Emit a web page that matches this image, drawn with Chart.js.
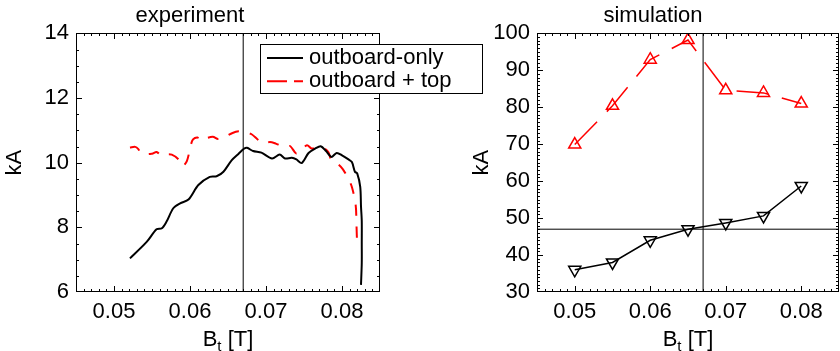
<!DOCTYPE html>
<html>
<head>
<meta charset="utf-8">
<script src="https://cdn.jsdelivr.net/npm/chart.js@4.4.1/dist/chart.umd.min.js"></script>
<style>
  html, body { margin: 0; padding: 0; background: #fff; }
  #wrap { position: relative; width: 840px; height: 351px; overflow: hidden; }
  canvas { position: absolute; top: 0; }
  #expChart { left: 0; }
  #simChart { left: 467px; }
</style>
</head>
<body>
<div id="wrap">
  <canvas id="expChart" width="490" height="351"></canvas>
  <canvas id="simChart" width="373" height="351"></canvas>
</div>
<script>
// ---- experiment: measured current vs toroidal field ----
const expOutboardBt = [0.0521, 0.0543, 0.0556, 0.0563, 0.0569, 0.0578, 0.0587, 0.0598, 0.0611, 0.0626,
  0.0635, 0.0644, 0.0655, 0.0664, 0.0671, 0.0675, 0.0683, 0.0694, 0.0708, 0.0718,
  0.0725, 0.0734, 0.0740, 0.0747, 0.0756, 0.0765, 0.0772, 0.0779, 0.0786, 0.0793,
  0.0800, 0.0808, 0.0813, 0.0817, 0.0820, 0.0824, 0.0825, 0.0826, 0.0826, 0.0826, 0.0825];
const expOutboardKA = [7.04, 7.55, 7.94, 7.97, 8.17, 8.59, 8.74, 8.86, 9.31, 9.56,
  9.58, 9.72, 10.08, 10.28, 10.43, 10.46, 10.36, 10.31, 10.13, 10.25,
  10.13, 10.15, 10.10, 9.99, 10.30, 10.44, 10.51, 10.36, 10.18, 10.30,
  10.23, 10.11, 10.02, 9.72, 9.67, 9.25, 8.65, 8.20, 7.50, 6.90, 6.22];

const expTopBt = [0.0521, 0.0528, 0.0532, 0.0536, 0.0550, 0.0556, 0.0563, 0.0569, 0.0576, 0.0585,
  0.0590, 0.0596, 0.0601, 0.0604, 0.0610, 0.0612, 0.0620, 0.0630, 0.0637, 0.0646,
  0.0656, 0.0664, 0.0670, 0.0672, 0.0681, 0.0689, 0.0697, 0.0705, 0.0713, 0.0720,
  0.0727, 0.0732, 0.0740, 0.0747, 0.0754, 0.0760, 0.0770, 0.0776, 0.0782, 0.0786,
  0.0795, 0.0801, 0.0807, 0.0813, 0.0818, 0.0819, 0.0820];
const expTopKA = [10.47, 10.49, 10.42, 10.28, 10.28, 10.33, 10.21, 10.26, 10.25, 10.10,
  9.89, 10.06, 10.54, 10.72, 10.78, 10.70, 10.75, 10.80, 10.73, 10.80,
  10.92, 10.97, 10.95, 10.95, 10.88, 10.72, 10.59, 10.64, 10.59, 10.52,
  10.49, 10.51, 10.28, 10.40, 10.54, 10.44, 10.47, 10.45, 10.33, 10.08,
  9.95, 9.80, 9.56, 9.25, 8.69, 8.12, 7.35];

// ---- simulation ----
const simBt = [0.05, 0.055, 0.06, 0.065, 0.07, 0.075, 0.08];
const simOutboardKA = [36.0, 38.0, 44.0, 47.0, 48.7, 50.6, 58.7];
const simTopKA = [69.9, 80.4, 92.9, 98.2, 84.6, 83.9, 81.0];

// axis labels
const btTicks = [0.05, 0.06, 0.07, 0.08];
const expTicks = [6, 8, 10, 12, 14];
const simTicks = [30, 40, 50, 60, 70, 80, 90, 100];

const btMarker = 0.067;   // vertical reference field
const simLevel = 47;      // horizontal reference level, simulation

const FONT = "'Liberation Sans', Arial, Helvetica, sans-serif";
Chart.defaults.font.family = FONT;
Chart.defaults.font.size = 22;
Chart.defaults.color = '#000';

const pairs = (xs, ys) => xs.map((x, i) => ({ x: x, y: ys[i] }));

// box around the plot with inward major/minor ticks on all four sides,
// painted as 1px rectangles so they stay sharp
function frame(yStep, yMajors) {
  return {
    id: 'idlFrame',
    afterDraw(chart) {
      const { ctx, chartArea: a, scales } = chart;
      const L = Math.round(a.left), R = Math.round(a.right) - 1;
      const T = Math.round(a.top), B = Math.round(a.bottom) - 1;
      ctx.save();
      ctx.fillStyle = '#000';
      ctx.fillRect(L, T, R - L + 1, 1);
      ctx.fillRect(L, B, R - L + 1, 1);
      ctx.fillRect(L, T, 1, B - T + 1);
      ctx.fillRect(R, T, 1, B - T + 1);
      const tick = (scale, step, majors, horiz) => {
        const n = Math.round((scale.max - scale.min) / step);
        for (let i = 0; i <= n; i++) {
          const v = scale.min + i * step;
          const len = majors.some(m => Math.abs(m - v) < step / 10) ? 6 : 3;
          const p = Math.round(scale.getPixelForValue(v));
          if (horiz) {
            const px = Math.min(Math.max(p, L), R);
            ctx.fillRect(px, B - len + 1, 1, len);
            ctx.fillRect(px, T, 1, len);
          } else {
            const py = Math.min(Math.max(p, T), B);
            ctx.fillRect(L, py, len, 1);
            ctx.fillRect(R - len + 1, py, len, 1);
          }
        }
      };
      tick(scales.x, 0.001, btTicks, true);
      tick(scales.y, yStep, yMajors, false);
      ctx.restore();
    }
  };
}

// "B_t [T]" with a real subscript
const btTitle = {
  id: 'btTitle',
  afterDraw(chart) {
    const { ctx, chartArea: a } = chart;
    const big = '22px ' + FONT, small = '15px ' + FONT;
    ctx.save();
    ctx.fillStyle = '#000';
    ctx.textBaseline = 'alphabetic';
    ctx.textAlign = 'left';
    ctx.font = big;
    const wB = ctx.measureText('B').width, wRest = ctx.measureText(' [T]').width;
    ctx.font = small;
    const wt = ctx.measureText('t').width;
    let x = (a.left + a.right) / 2 - (wB + wt + wRest) / 2;
    const base = a.bottom + 54;
    ctx.font = big; ctx.fillText('B', x, base); x += wB;
    ctx.font = small; ctx.fillText('t', x, base + 5); x += wt;
    ctx.font = big; ctx.fillText(' [T]', x, base);
    ctx.restore();
  }
};

// boxed legend, drawn from the labelled datasets
function boxLegend(box) {
  return {
    id: 'boxLegend',
    afterDraw(chart) {
      const ctx = chart.ctx;
      ctx.save();
      ctx.setLineDash([]);
      ctx.fillStyle = '#fff';
      ctx.fillRect(box.x, box.y, box.w, box.h);
      ctx.fillStyle = '#000';
      ctx.fillRect(box.x, box.y, box.w, 1);
      ctx.fillRect(box.x, box.y + box.h, box.w + 1, 1);
      ctx.fillRect(box.x, box.y, 1, box.h);
      ctx.fillRect(box.x + box.w, box.y, 1, box.h);
      chart.data.datasets.filter(d => d.label).forEach((d, i) => {
        const y = box.y + 14 + i * 23.3;
        ctx.beginPath();
        ctx.strokeStyle = d.borderColor;
        ctx.lineWidth = d.borderWidth;
        ctx.setLineDash(d.legendDash || []);
        ctx.moveTo(box.x + 7, y);
        ctx.lineTo(box.x + 43, y);
        ctx.stroke();
        ctx.setLineDash([]);
        ctx.fillStyle = '#000';
        ctx.font = '22px ' + FONT;
        ctx.textBaseline = 'middle';
        ctx.fillText(d.label, box.x + 49, y);
      });
      ctx.restore();
    }
  };
}

function panel(id, title, datasets, yMin, yMax, yTicks, yStep, yWidth, rightPad, extra) {
  return new Chart(document.getElementById(id), {
    type: 'line',
    data: { datasets: datasets },
    plugins: [btTitle, frame(yStep, yTicks)].concat(extra),
    options: {
      responsive: false,
      animation: false,
      layout: { autoPadding: false, padding: { top: 0, right: rightPad, bottom: 0, left: 0 } },
      plugins: {
        legend: { display: false },
        tooltip: { enabled: false },
        title: {
          display: true, text: title,
          font: { size: 22, weight: 'normal' },
          padding: { top: 3, bottom: 4 }
        }
      },
      scales: {
        x: {
          type: 'linear', min: 0.045, max: 0.085,
          grid: { display: false, drawTicks: false },
          border: { display: false },
          afterBuildTicks: s => { s.ticks = btTicks.map(v => ({ value: v })); },
          afterFit: s => { s.height = 59; },
          ticks: { padding: 7, autoSkip: false, maxRotation: 0, callback: v => v.toFixed(2) }
        },
        y: {
          type: 'linear', min: yMin, max: yMax,
          grid: { display: false, drawTicks: false },
          border: { display: false },
          afterBuildTicks: s => { s.ticks = yTicks.map(v => ({ value: v })); },
          afterFit: s => { s.width = yWidth; },
          ticks: { padding: 7, autoSkip: false, callback: v => String(v) },
          title: { display: true, text: 'kA', font: { size: 22 }, padding: { top: 2, bottom: 0 } }
        }
      }
    }
  });
}

panel('expChart', 'experiment', [
  {
    label: 'outboard-only',
    data: pairs(expOutboardBt, expOutboardKA),
    borderColor: '#000', borderWidth: 2, pointRadius: 0, tension: 0.3
  },
  {
    label: 'outboard + top',
    data: pairs(expTopBt, expTopKA),
    borderColor: '#f00', borderWidth: 2, borderDash: [11, 11], legendDash: [20, 7],
    pointRadius: 0, tension: 0.3
  },
  {
    data: [{ x: btMarker, y: 6 }, { x: btMarker, y: 14 }],
    borderColor: '#000', borderWidth: 1, pointRadius: 0
  }
], 6, 14, expTicks, 0.5, 76, 110, [boxLegend({ x: 260, y: 44, w: 222, h: 49 })]);

panel('simChart', 'simulation', [
  {
    data: pairs(simBt, simOutboardKA),
    borderColor: '#000', borderWidth: 1.5,
    pointStyle: 'triangle', rotation: 180, pointRadius: 7, pointBorderWidth: 1.5,
    pointBackgroundColor: 'rgba(0,0,0,0)', pointBorderColor: '#000'
  },
  {
    data: pairs(simBt, simTopKA),
    borderColor: '#f00', borderWidth: 1.5, borderDash: [32, 14],
    pointStyle: 'triangle', pointRadius: 7, pointBorderWidth: 1.5,
    pointBackgroundColor: 'rgba(0,0,0,0)', pointBorderColor: '#f00'
  },
  {
    data: [{ x: btMarker, y: 30 }, { x: btMarker, y: 100 }],
    borderColor: '#000', borderWidth: 1, pointRadius: 0
  },
  {
    data: [{ x: 0.045, y: simLevel }, { x: 0.085, y: simLevel }],
    borderColor: '#000', borderWidth: 1, pointRadius: 0
  }
], 30, 100, simTicks, 1, 70, 1, []);
</script>
</body>
</html>
